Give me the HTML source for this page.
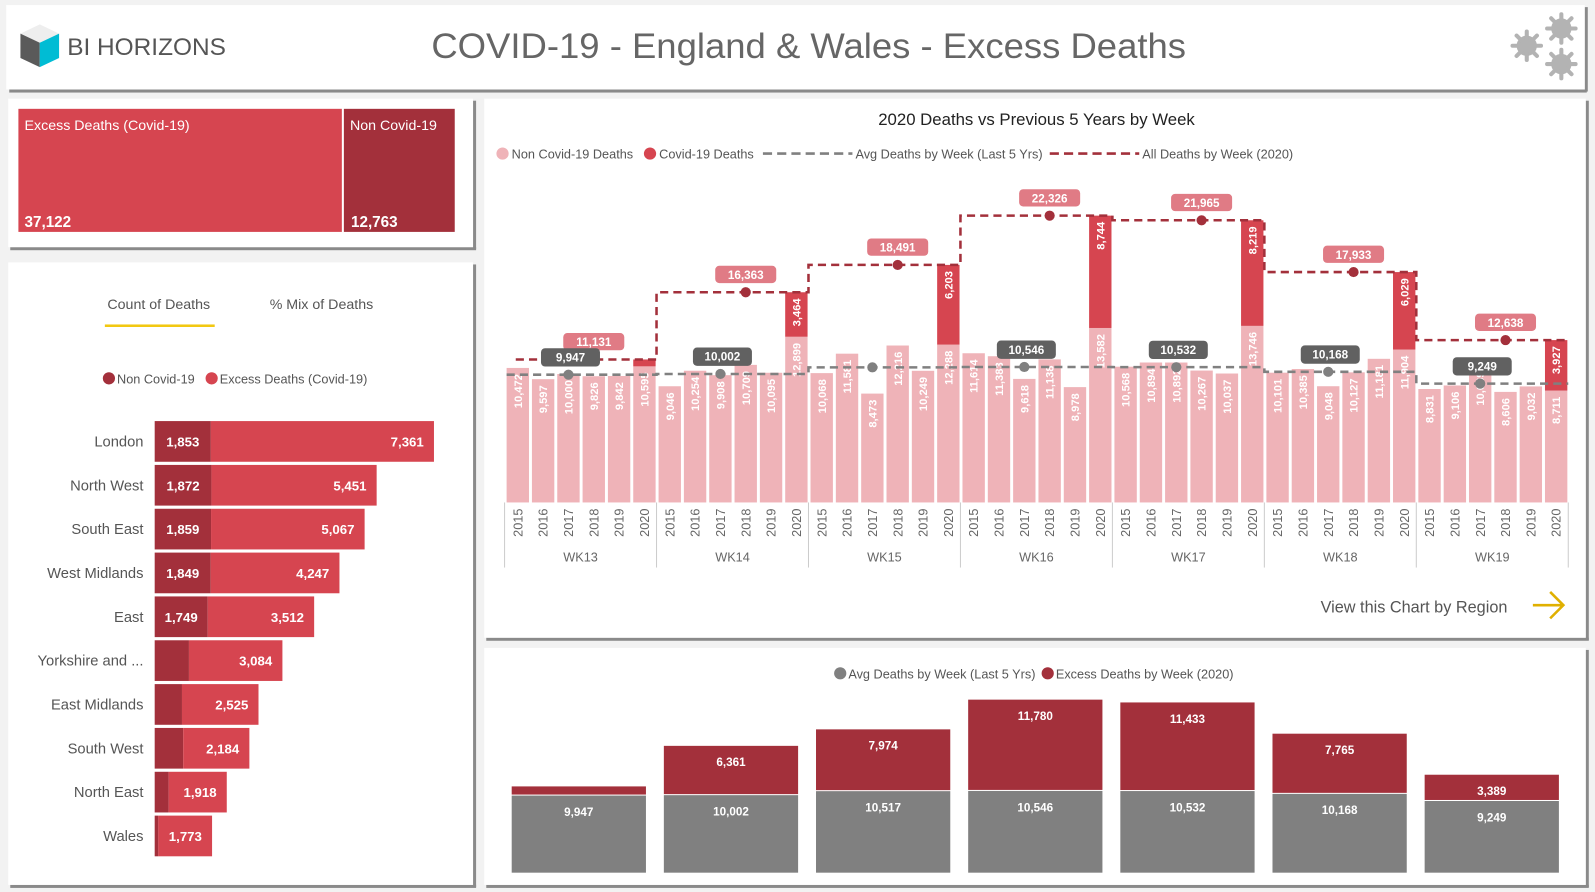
<!DOCTYPE html>
<html><head><meta charset="utf-8">
<style>
html,body{margin:0;padding:0;background:#f2f2f2;overflow:hidden}
svg{display:block;font-family:"Liberation Sans",sans-serif}
</style></head>
<body>
<svg id="root" width="1595" height="892" viewBox="0 0 1568 877" xmlns="http://www.w3.org/2000/svg">
  <rect x="0" y="0" width="1568" height="877" fill="#f2f2f2"/>
  <!-- header -->
  <g>
    <rect x="9" y="88" width="1551" height="3" fill="#8a8a8a"/>
    <rect x="1558" y="7" width="3" height="83" fill="#8a8a8a"/>
    <rect x="6" y="5" width="1552" height="83" fill="#fff"/>
    <g>
      <polygon points="20,33 39,24 58,33 39,42" fill="#eeeeee"/>
      <polygon points="20,33 39,42 39,66 20,57" fill="#5a5a5a"/>
      <polygon points="39,42 58,33 58,57 39,66" fill="#00bcd4"/>
    </g>
    <text x="66" y="54" font-size="24" fill="#555">BI HORIZONS</text>
    <text x="795" y="57" font-size="35" fill="#666" text-anchor="middle" textLength="742" lengthAdjust="spacingAndGlyphs">COVID-19 - England &amp; Wales - Excess Deaths</text>
    <g fill="#b3b3b3">
      <circle cx="1501" cy="45" r="10"/><circle cx="1535" cy="28" r="10"/><circle cx="1535" cy="63" r="10"/>
      <g stroke="#b3b3b3" stroke-width="4" stroke-linecap="round">
        <path d="M1501 31v28M1487 45h28M1491 35l20 20M1511 35l-20 20"/>
        <path d="M1535 14v28M1521 28h28M1525 18l20 20M1545 18l-20 20"/>
        <path d="M1535 49v28M1521 63h28M1525 53l20 20M1545 53l-20 20"/>
      </g>
    </g>
  </g>
  <!-- treemap panel -->
  <g>
    <rect x="10" y="243" width="458" height="3" fill="#8a8a8a"/>
    <rect x="465" y="99" width="3" height="146" fill="#8a8a8a"/>
    <rect x="8" y="97" width="457" height="146" fill="#fff"/>
    <rect x="18" y="107" width="318" height="121" fill="#d64550"/>
    <rect x="338" y="107" width="109" height="121" fill="#a3303b"/>
    <text x="24" y="128" font-size="14" fill="#fff">Excess Deaths (Covid-19)</text>
    <text x="24" y="223" font-size="15" font-weight="bold" fill="#fff">37,122</text>
    <text x="344" y="128" font-size="14" fill="#fff">Non Covid-19</text>
    <text x="345" y="223" font-size="15" font-weight="bold" fill="#fff">12,763</text>
  </g>
  <!-- left panel -->
  <g>
    <rect x="10" y="870" width="458" height="3" fill="#8a8a8a"/>
    <rect x="465" y="260" width="3" height="612" fill="#8a8a8a"/>
    <rect x="8" y="258" width="457" height="612" fill="#fff"/>
    <text x="156" y="304" font-size="14" fill="#555" text-anchor="middle">Count of Deaths</text>
    <rect x="103" y="319" width="108" height="2.5" fill="#f2c811"/>
    <text x="316" y="304" font-size="14" fill="#555" text-anchor="middle">% Mix of Deaths</text>
    <g>
      <circle cx="107" cy="372" r="6" fill="#a3303b"/>
      <text x="115" y="377" font-size="12.5" fill="#555">Non Covid-19</text>
      <circle cx="208" cy="372" r="6" fill="#d64550"/>
      <text x="216" y="377" font-size="12.5" fill="#555">Excess Deaths (Covid-19)</text>
    </g>
    <g id="regionChart"></g>
  </g>
  <!-- main chart panel -->
  <g>
    <rect x="478" y="627" width="1084" height="3" fill="#8a8a8a"/>
    <rect x="1559" y="99" width="3" height="530" fill="#8a8a8a"/>
    <rect x="476" y="97" width="1083" height="530" fill="#fff"/>
    <text x="1019" y="123" font-size="16.5" fill="#222" text-anchor="middle">2020 Deaths vs Previous 5 Years by Week</text>
    <g font-size="12.5" fill="#555">
      <circle cx="494" cy="151" r="6" fill="#efb3b8"/>
      <text x="503" y="156">Non Covid-19 Deaths</text>
      <circle cx="639" cy="151" r="6" fill="#d64550"/>
      <text x="648" y="156">Covid-19 Deaths</text>
      <line x1="750" y1="151" x2="838" y2="151" stroke="#808080" stroke-width="2.5" stroke-dasharray="9,5"/>
      <text x="841" y="156">Avg Deaths by Week (Last 5 Yrs)</text>
      <line x1="1032" y1="151" x2="1120" y2="151" stroke="#a3303b" stroke-width="2.5" stroke-dasharray="9,5"/>
      <text x="1123" y="156">All Deaths by Week (2020)</text>
    </g>
    <g id="mainChart"></g>
    <text x="1482" y="602" font-size="16" fill="#555" text-anchor="end">View this Chart by Region</text>
    <path d="M1507 595h30M1524 582l13 13-13 13" fill="none" stroke="#e0b000" stroke-width="2.5"/>
  </g>
  <!-- bottom panel -->
  <g>
    <rect x="478" y="870" width="1084" height="3" fill="#8a8a8a"/>
    <rect x="1559" y="639" width="3" height="233" fill="#8a8a8a"/>
    <rect x="476" y="637" width="1083" height="233" fill="#fff"/>
    <g font-size="12.5" fill="#555">
      <circle cx="826" cy="662" r="6" fill="#808080"/>
      <text x="834" y="667">Avg Deaths by Week (Last 5 Yrs)</text>
      <circle cx="1030" cy="662" r="6" fill="#a3303b"/>
      <text x="1038" y="667">Excess Deaths by Week (2020)</text>
    </g>
    <g id="bottomChart"></g>
  </g>
</svg>
<script>
// ---- region chart data ----
const regions = ["London","North West","South East","West Midlands","East","Yorkshire and ...","East Midlands","South West","North East","Wales"];
const regionNonCovid = [1853,1872,1859,1849,1749,1130,900,940,460,120];
const regionExcess = [7361,5451,5067,4247,3512,3084,2525,2184,1918,1773];
// ---- weekly chart data ----
const weeks = ["WK13","WK14","WK15","WK16","WK17","WK18","WK19"];
const years = ["2015","2016","2017","2018","2019","2020"];
const nonCovid = [
  [10472,9597,10000,9826,9842,10595],
  [9046,10254,9908,10709,10095,12899],
  [10068,11581,8473,12216,10249,12288],
  [11614,11383,9618,11138,8978,13582],
  [10568,10894,10892,10267,10037,13746],
  [10101,10385,9048,10127,11181,11904],
  [8831,9106,10669,8606,9032,8711]
];
const covid2020 = [536,3464,6203,8744,8219,6029,3927];
const avgDeaths = [9947,10002,10517,10546,10532,10168,9249];
const allDeaths2020 = [11131,16363,18491,22326,21965,17933,12638];
const avgLabelShown = [true,true,false,true,true,true,true];
// ---- bottom chart data ----
const excessDeaths = [1184,6361,7974,11780,11433,7765,3389];

const NS="http://www.w3.org/2000/svg";
function mk(tag, attrs, parent, txt){
  const e=document.createElementNS(NS,tag);
  for(const k in attrs) e.setAttribute(k,attrs[k]);
  if(txt!==undefined) e.textContent=txt;
  parent.appendChild(e); return e;
}
const fmt=v=>v.toLocaleString("en-US");

// region chart
(function(){
  const g=document.getElementById("regionChart");
  const x0=152, sx=0.0298;
  const yRow=i=>414+i*43.1;
  regions.forEach((r,i)=>{
    const y=yRow(i);
    const t=mk("text",{x:141,y:y+25,"font-size":14.5,fill:"#555","text-anchor":"end"},g,r);
    
    
    const wn=regionNonCovid[i]*sx, we=regionExcess[i]*sx;
    const b1=mk("rect",{x:x0,y:y,width:wn,height:40,fill:"#a3303b"},g);
    
    
    const b2=mk("rect",{x:x0+wn,y:y,width:we,height:40,fill:"#d64550"},g);
    
    
    if(wn>45){
      const l=mk("text",{x:x0+wn/2,y:y+25,"font-size":13,"font-weight":"bold",fill:"#fff","text-anchor":"middle"},g,fmt(regionNonCovid[i]));
      
      
    }
    const l2=mk("text",{x:x0+wn+we-10,y:y+25,"font-size":13,"font-weight":"bold",fill:"#fff","text-anchor":"end"},g,fmt(regionExcess[i]));
    
    
  });
})();

// main chart
(function(){
  const g=document.getElementById("mainChart");
  const base=494, sy=0.01263, gw=149.4, step=24.9, bw=22;
  const gx=k=>496+k*gw;
  const bx=(k,i)=>gx(k)+2+i*step;
  const y=v=>base-v*sy;
  for(let k=0;k<=weeks.length;k++){
    const s=mk("line",{x1:gx(k),y1:base,x2:gx(k),y2:558,stroke:"#ccc","stroke-width":1},g);
    
    
  }
  weeks.forEach((w,k)=>{
    const wl=mk("text",{x:gx(k)+gw/2,y:552,"font-size":12.5,fill:"#666","text-anchor":"middle"},g,w);
    
    
    years.forEach((yr,i)=>{
      const cx=bx(k,i)+bw/2;
      const v=nonCovid[k][i];
      const r=mk("rect",{x:bx(k,i),y:y(v),width:bw,height:v*sy,fill:"#efb3b8"},g);
      
      
      const vt=mk("text",{x:0,y:0,"font-size":11,"font-weight":"bold",fill:"#fff","text-anchor":"end",transform:`translate(${cx+4},${y(v)+6}) rotate(-90)`},g,fmt(v));
      
      
      const yl=mk("text",{x:0,y:0,"font-size":12.5,fill:"#666","text-anchor":"end",transform:`translate(${cx+4.5},${base+6}) rotate(-90)`},g,yr);
      
      
      if(i===5){
        const c=covid2020[k];
        const cr=mk("rect",{x:bx(k,i),y:y(v+c),width:bw,height:c*sy,fill:"#d64550"},g);
        
        
        if(c*sy>40){
          const ct=mk("text",{x:0,y:0,"font-size":11,"font-weight":"bold",fill:"#fff","text-anchor":"end",transform:`translate(${cx+4},${y(v+c)+6}) rotate(-90)`},g,fmt(c));
          
          
        }
      }
    });
  });
  function stepPath(arr,start){
    let d="";
    arr.forEach((v,k)=>{
      const x1=k===0?start:gx(k), x2=gx(k+1);
      d+=(k===0?"M":"L")+x1+" "+y(v)+" L"+x2+" "+y(v)+" ";
    });
    return d;
  }
  const ap=mk("path",{d:stepPath(avgDeaths,498),fill:"none",stroke:"#808080","stroke-width":2.5,"stroke-dasharray":"8,5"},g);
  
  
  const tp=mk("path",{d:stepPath(allDeaths2020,507),fill:"none",stroke:"#a3303b","stroke-width":2.5,"stroke-dasharray":"8,5"},g);
  
  
  weeks.forEach((w,k)=>{
    const ax=bx(k,2)+bw/2, ay=y(avgDeaths[k]);
    const ad=mk("circle",{cx:ax,cy:ay,r:5,fill:"#808080"},g);
    
    
    const tx=bx(k,3)+bw/2, ty=y(allDeaths2020[k]);
    const td=mk("circle",{cx:tx,cy:ty,r:5,fill:"#a3303b"},g);
    
    
    const tb=mk("rect",{x:tx-30,y:ty-26,width:60,height:17,rx:4,fill:"#e07b85"},g);
    
    
    const tt=mk("text",{x:tx,y:ty-13,"font-size":11.5,"font-weight":"bold",fill:"#fff","text-anchor":"middle"},g,fmt(allDeaths2020[k]));
    
    
    if(avgLabelShown[k]){
      const abx=ax+2;
      const ab=mk("rect",{x:abx-29,y:ay-26,width:58,height:18,rx:4,fill:"#616161"},g);
      
      
      const at=mk("text",{x:abx,y:ay-13,"font-size":11.5,"font-weight":"bold",fill:"#fff","text-anchor":"middle"},g,fmt(avgDeaths[k]));
      
      
    }
  });
})();

// bottom chart
(function(){
  const g=document.getElementById("bottomChart");
  const base=858, sy=0.00762, cw=132;
  const cx=k=>503+k*149.6;
  const y=v=>base-v*sy;
  weeks.forEach((w,k)=>{
    const a=avgDeaths[k], e=excessDeaths[k];
    const ar=mk("rect",{x:cx(k),y:y(a),width:cw,height:a*sy,fill:"#808080"},g);
    
    
    const er=mk("rect",{x:cx(k),y:y(a+e),width:cw,height:e*sy-1,fill:"#a3303b"},g);
    
    
    const at=mk("text",{x:cx(k)+cw/2,y:y(a)+20,"font-size":11.5,"font-weight":"bold",fill:"#fff","text-anchor":"middle"},g,fmt(a));
    
    
    if(e*sy>20){
      const et=mk("text",{x:cx(k)+cw/2,y:y(a+e)+20,"font-size":11.5,"font-weight":"bold",fill:"#fff","text-anchor":"middle"},g,fmt(e));
      
      
    }
  });
})();
</script>
</body></html>
